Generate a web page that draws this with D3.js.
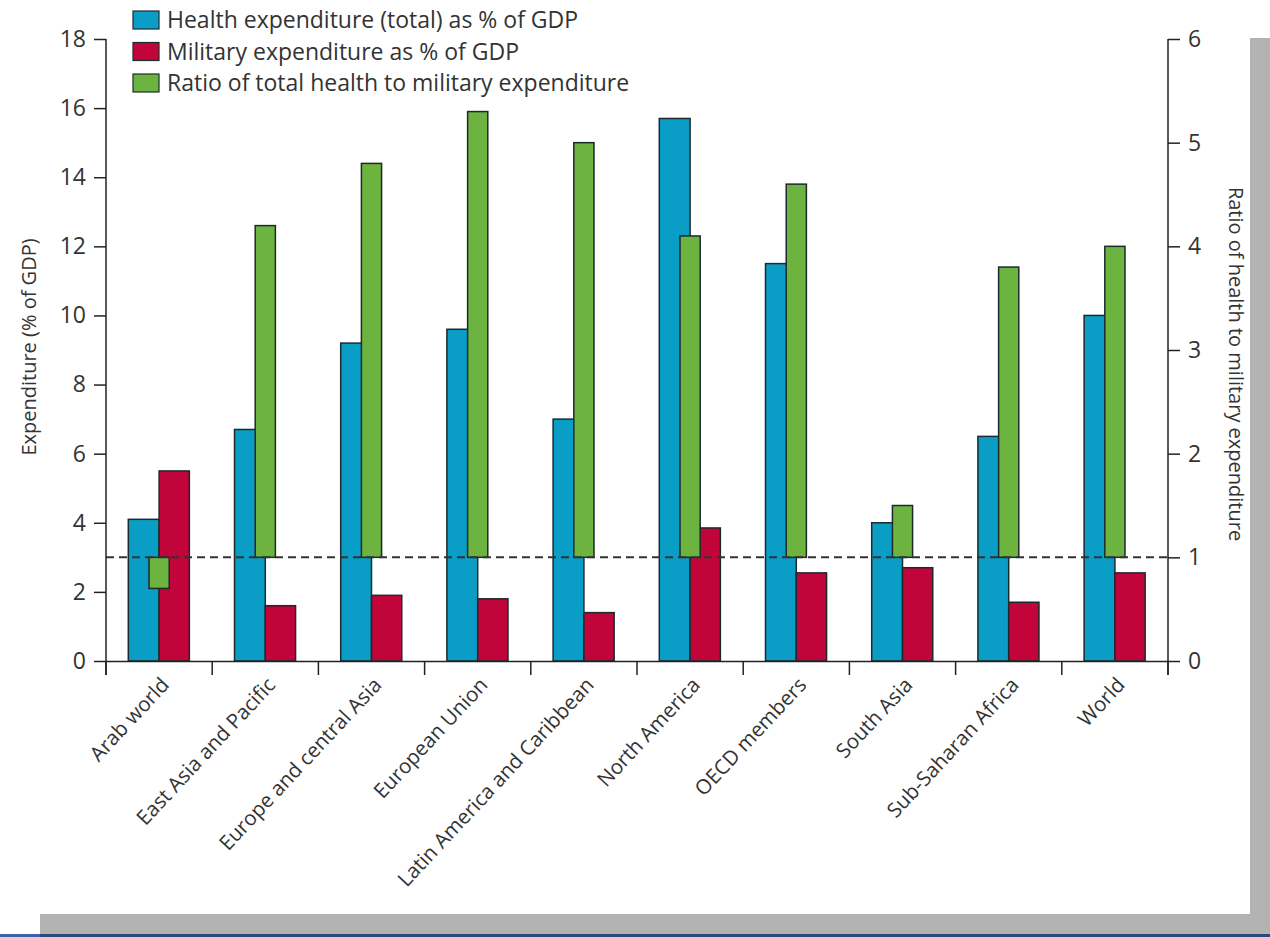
<!DOCTYPE html>
<html>
<head>
<meta charset="utf-8">
<script src="https://cdn.jsdelivr.net/npm/d3@7"></script>
<style>
  html, body { margin: 0; padding: 0; background: #fff; }
  svg { display: block; }
  text { font-family: "Open Sans", "Lato", sans-serif; fill: #333; }
</style>
</head>
<body>
<svg id="chart" width="1270" height="937"></svg>
<script>
const categories = ["Arab world", "East Asia and Pacific", "Europe and central Asia", "European Union",
  "Latin America and Caribbean", "North America", "OECD members", "South Asia", "Sub-Saharan Africa", "World"];
const healthValues   = [4.1, 6.7, 9.2, 9.6, 7.0, 15.7, 11.5, 4.0, 6.5, 10.0];
const militaryValues = [5.5, 1.6, 1.9, 1.8, 1.4, 3.85, 2.55, 2.7, 1.7, 2.55];
const ratioValues    = [0.7, 4.2, 4.8, 5.3, 5.0, 4.1, 4.6, 1.5, 3.8, 4.0];
const leftTicks  = [0, 2, 4, 6, 8, 10, 12, 14, 16, 18];
const rightTicks = [0, 1, 2, 3, 4, 5, 6];
const legendLabels = ["Health expenditure (total) as % of GDP", "Military expenditure as % of GDP",
  "Ratio of total health to military expenditure"];
const colors = ["#0a9ec6", "#c1053a", "#6cb33f"];

const svg = d3.select("#chart");

// frame (gray shadow border)
svg.append("rect").attr("x", 1250).attr("y", 38).attr("width", 20).attr("height", 896).attr("fill", "#b3b3b3");
svg.append("rect").attr("x", 40).attr("y", 914).attr("width", 1230).attr("height", 20).attr("fill", "#b3b3b3");
svg.append("rect").attr("x", 0).attr("y", 934).attr("width", 40).attr("height", 3).attr("fill", "#3d62a8");
svg.append("rect").attr("x", 40).attr("y", 934).attr("width", 1230).attr("height", 3).attr("fill", "#2c4a7c");

const pLeft = 106, pRight = 1168, pTop = 39, pBottom = 661;
const x = d3.scaleBand().domain(categories).range([pLeft, pRight]).padding(0);
const yL = d3.scaleLinear().domain([0, 18]).range([pBottom, pTop]);
const yR = d3.scaleLinear().domain([0, 6]).range([pBottom, pTop]);
const bw = x.bandwidth();
const mid = c => x(c) + bw / 2;

const stroke = "#1d2a2c";

// health bars
svg.append("g").selectAll("rect").data(categories).join("rect")
  .attr("x", c => mid(c) - 0.29 * bw)
  .attr("width", 0.29 * bw)
  .attr("y", (c, i) => yL(healthValues[i]))
  .attr("height", (c, i) => pBottom - yL(healthValues[i]))
  .attr("fill", colors[0]).attr("stroke", stroke).attr("stroke-width", 1.5);

// military bars
svg.append("g").selectAll("rect").data(categories).join("rect")
  .attr("x", c => mid(c))
  .attr("width", 0.285 * bw)
  .attr("y", (c, i) => yL(militaryValues[i]))
  .attr("height", (c, i) => pBottom - yL(militaryValues[i]))
  .attr("fill", colors[1]).attr("stroke", stroke).attr("stroke-width", 1.5);

// ratio bars (from ratio = 1)
svg.append("g").selectAll("rect").data(categories).join("rect")
  .attr("x", c => mid(c) - 0.095 * bw)
  .attr("width", 0.19 * bw)
  .attr("y", (c, i) => Math.min(yR(ratioValues[i]), yR(1)))
  .attr("height", (c, i) => Math.abs(yR(ratioValues[i]) - yR(1)))
  .attr("fill", colors[2]).attr("stroke", stroke).attr("stroke-width", 1.5);

// dashed reference line at ratio 1
svg.append("line")
  .attr("x1", pLeft).attr("x2", pRight).attr("y1", yR(1)).attr("y2", yR(1))
  .attr("stroke", "#333").attr("stroke-width", 2).attr("stroke-dasharray", "8,5");

// axes
const axisColor = "#222";
const gL = svg.append("g").attr("transform", `translate(${pLeft},0)`)
  .call(d3.axisLeft(yL).tickValues(leftTicks).tickSize(12).tickPadding(8).tickFormat(d3.format("d")));
const gR = svg.append("g").attr("transform", `translate(${pRight},0)`)
  .call(d3.axisRight(yR).tickValues(rightTicks).tickSize(12).tickPadding(8).tickFormat(d3.format("d")));
[gL, gR].forEach(g => {
  g.select(".domain").remove();
  g.selectAll(".tick line").attr("stroke", axisColor).attr("stroke-width", 1.5);
  g.selectAll(".tick text").style("font-size", "23px").attr("fill", "#333");
});
svg.append("line").attr("x1", pLeft).attr("x2", pLeft).attr("y1", pTop).attr("y2", pBottom + 14)
  .attr("stroke", axisColor).attr("stroke-width", 1.5);
svg.append("line").attr("x1", pRight).attr("x2", pRight).attr("y1", pTop).attr("y2", pBottom + 14)
  .attr("stroke", axisColor).attr("stroke-width", 1.5);

// x axis
const gX = svg.append("g").attr("transform", `translate(0,${pBottom})`)
  .call(d3.axisBottom(x).tickSize(0).tickFormat(""));
gX.select(".domain").attr("stroke", axisColor).attr("stroke-width", 1.5);
gX.selectAll(".tick").remove();
const boundaries = categories.map(c => x(c)).concat([pRight]);
svg.append("g").selectAll("line").data(boundaries).join("line")
  .attr("x1", d => d).attr("x2", d => d).attr("y1", pBottom).attr("y2", pBottom + 14)
  .attr("stroke", axisColor).attr("stroke-width", 1.5);

// category labels
svg.append("g").selectAll("text").data(categories).join("text")
  .attr("transform", c => `translate(${mid(c) + 6},${pBottom + 20}) rotate(-47)`)
  .attr("text-anchor", "end")
  .attr("dy", "0.35em")
  .style("font-size", "20.5px")
  .text(c => c);

// axis titles
svg.append("text")
  .attr("transform", `translate(36,347) rotate(-90)`)
  .attr("text-anchor", "middle")
  .style("font-size", "20px")
  .text("Expenditure (% of GDP)");
svg.append("text")
  .attr("transform", `translate(1229,364) rotate(90)`)
  .attr("text-anchor", "middle")
  .style("font-size", "20px")
  .text("Ratio of health to military expenditure");

// legend
const lg = svg.append("g").selectAll("g").data(legendLabels).join("g")
  .attr("transform", (d, i) => `translate(133,${11 + i * 31.5})`);
lg.append("rect").attr("width", 26).attr("height", 18)
  .attr("fill", (d, i) => colors[i]).attr("stroke", stroke).attr("stroke-width", 1.2);
lg.append("text").attr("x", 34).attr("y", 9).attr("dy", "0.35em")
  .style("font-size", "23px").text(d => d);
</script>
</body>
</html>
